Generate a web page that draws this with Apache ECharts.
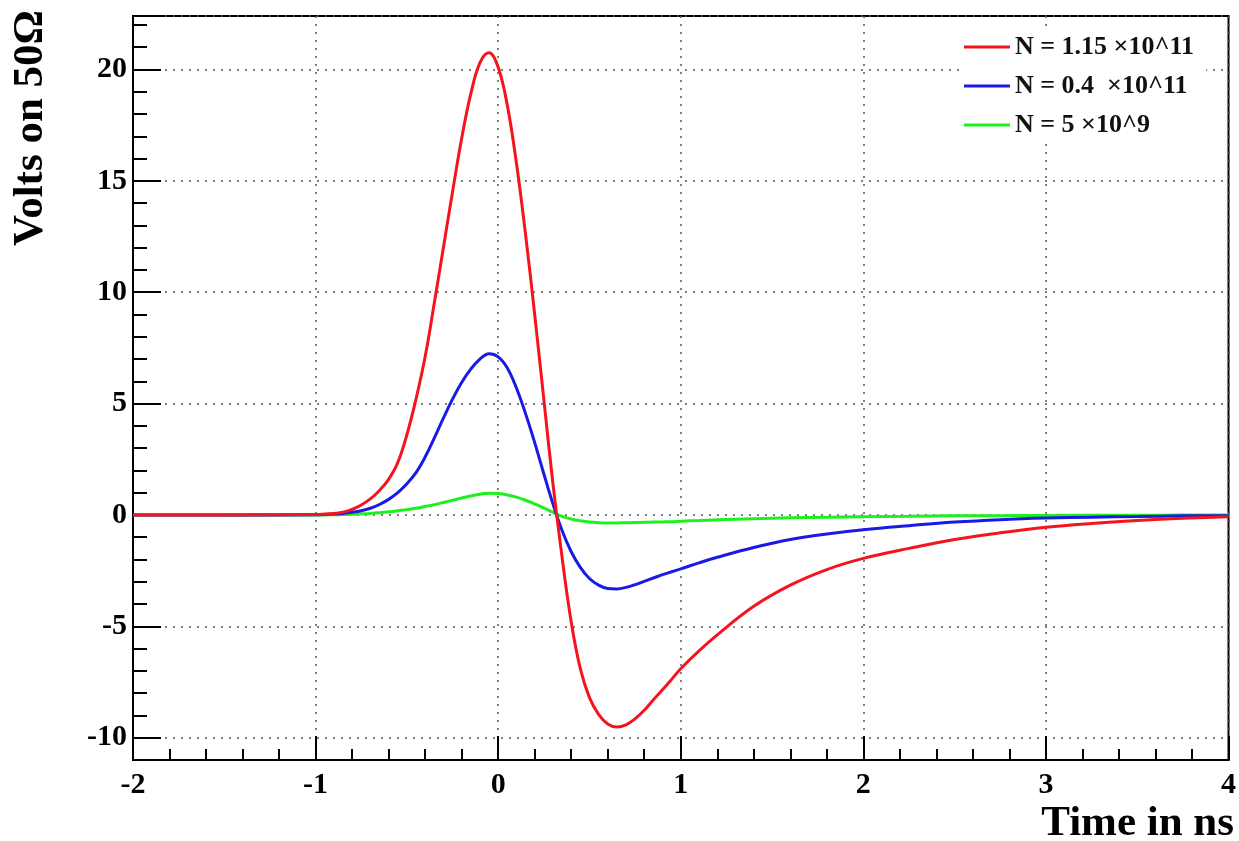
<!DOCTYPE html>
<html>
<head>
<meta charset="utf-8">
<title>Pulse</title>
<script src="https://cdn.jsdelivr.net/npm/echarts@6/dist/echarts.min.js"></script>
<style>
    html, body { margin: 0; padding: 0; background: #fff; }
    #main { width: 1239px; height: 841px; }
</style>
</head>
<body>
<div id="main"></div>
<script>
    // time in ns
    var times = [-2, -1.5,
        -1.0, -0.95, -0.9, -0.85, -0.8, -0.75, -0.7, -0.65, -0.6, -0.55,
        -0.5, -0.45, -0.4, -0.35, -0.3, -0.25, -0.2, -0.15, -0.1, -0.05,
        0, 0.05, 0.1, 0.15, 0.2, 0.25, 0.3, 0.35, 0.4, 0.45,
        0.5, 0.55, 0.6, 0.65, 0.7, 0.75, 0.8, 0.85, 0.9, 0.95,
        1.0, 1.1, 1.2, 1.4, 1.6, 1.8, 2.0, 2.25, 2.5, 2.75, 3.0, 3.25, 3.5, 3.75, 4.0];

    // volts, N = 1.15e11
    var redVolts = [0, 0,
        0.02, 0.04, 0.07, 0.12, 0.25, 0.45, 0.72, 1.1, 1.6, 2.35,
        3.6, 5.2, 7.1, 9.5, 12.0, 14.5, 16.9, 18.9, 20.3, 20.75,
        20.1, 18.4, 15.8, 12.6, 9.0, 5.2, 1.4, -1.9, -4.8, -6.9,
        -8.2, -8.95, -9.38, -9.52, -9.42, -9.15, -8.77, -8.3, -7.85, -7.38,
        -6.9, -6.1, -5.38, -4.1, -3.15, -2.45, -1.95, -1.5, -1.1, -0.8, -0.55, -0.38, -0.25, -0.15, -0.08];

    // volts, N = 0.4e11
    var blueVolts = [0, 0,
        0.01, 0.02, 0.04, 0.07, 0.12, 0.19, 0.3, 0.47, 0.7, 1.0,
        1.4, 1.9, 2.6, 3.45, 4.35, 5.2, 5.95, 6.55, 7.0, 7.24,
        7.1, 6.6, 5.7, 4.55, 3.25, 1.85, 0.5, -0.7, -1.65, -2.35,
        -2.85, -3.15, -3.3, -3.32, -3.25, -3.13, -2.98, -2.83, -2.68, -2.55,
        -2.42, -2.15, -1.9, -1.46, -1.1, -0.85, -0.66, -0.48, -0.32, -0.21, -0.14, -0.1, -0.07, -0.04, -0.03];

    // volts, N = 5e9
    var greenVolts = [0, 0,
        0, 0.005, 0.01, 0.02, 0.03, 0.05, 0.07, 0.1, 0.14, 0.19,
        0.24, 0.3, 0.38, 0.46, 0.56, 0.66, 0.76, 0.85, 0.93, 0.98,
        0.96, 0.9, 0.8, 0.66, 0.5, 0.32, 0.12, -0.06, -0.18, -0.26,
        -0.32, -0.35, -0.36, -0.36, -0.35, -0.34, -0.33, -0.32, -0.31, -0.3,
        -0.28, -0.25, -0.22, -0.17, -0.13, -0.1, -0.08, -0.06, -0.04, -0.03, -0.02, -0.015, -0.01, -0.005, 0];

    var seriesNames = ['N = 1.15 \u00d710^11', 'N = 0.4  \u00d710^11', 'N = 5 \u00d710^9'];
    var seriesColors = ['#f5141e', '#1a1ae6', '#1ef01e'];

    function pairs(ys) {
        return times.map(function (t, i) { return [t, ys[i]]; });
    }

    var FONT = '"Liberation Serif", "DejaVu Serif", serif';
    var gridDots = { show: true, lineStyle: { color: '#555', type: [2, 6], width: 1.5 } };

    var chart = echarts.init(document.getElementById('main'));
    var lines = [redVolts, blueVolts, greenVolts].map(function (ys, i) {
        return {
            name: seriesNames[i],
            type: 'line',
            data: pairs(ys),
            smooth: 0.4,
            symbol: 'none',
            yAxisIndex: 0,
            lineStyle: { color: seriesColors[i], width: 3 },
            itemStyle: { color: seriesColors[i] },
            z: 5 - i
        };
    });

    var option = {
        backgroundColor: '#fff',
        animation: false,
        grid: {
            left: 133, right: 8, top: 16, bottom: 81,
            show: true, borderColor: '#000', borderWidth: 2, backgroundColor: 'transparent'
        },
        legend: {
            orient: 'vertical',
            left: 960, top: 30,
            itemWidth: 46, itemHeight: 3, itemGap: 13,
            icon: 'rect',
            backgroundColor: '#fff',
            padding: [4, 12, 4, 4],
            textStyle: { fontFamily: FONT, fontWeight: 'bold', fontSize: 26, color: '#111' },
            data: seriesNames
        },
        xAxis: {
            type: 'value',
            min: -2, max: 4, interval: 1,
            axisLine: { onZero: false, lineStyle: { color: '#000', width: 2 } },
            axisTick: { inside: true, length: 24, lineStyle: { color: '#000', width: 2 } },
            minorTick: { show: true, splitNumber: 5, length: 11, lineStyle: { color: '#000', width: 2 } },
            axisLabel: { margin: 10, fontFamily: FONT, fontWeight: 'bold', fontSize: 30, color: '#000' },
            splitLine: gridDots
        },
        yAxis: [{
            type: 'value',
            min: -11, max: 22.4, splitNumber: 6,
            axisLine: { onZero: false, lineStyle: { color: '#000', width: 2 } },
            axisTick: { inside: true, length: 28, lineStyle: { color: '#000', width: 2 } },
            axisLabel: {
                margin: 6, fontFamily: FONT, fontWeight: 'bold', fontSize: 30, color: '#000',
                formatter: function (v) { return v % 5 === 0 ? String(v) : ''; }
            },
            splitLine: gridDots
        }, {
            // minor ticks every 1 V
            type: 'value',
            position: 'left',
            min: -11, max: 22.4, interval: 1,
            axisLine: { show: false, onZero: false },
            axisTick: { inside: true, length: 14, lineStyle: { color: '#000', width: 2 } },
            axisLabel: { show: false },
            splitLine: { show: false }
        }],
        graphic: [{
            type: 'text',
            x: 1234, y: 824,
            style: {
                text: 'Time in ns', fill: '#000', align: 'right', verticalAlign: 'middle',
                font: 'bold 43px ' + FONT
            }
        }, {
            type: 'text',
            x: 31, y: 10,
            rotation: Math.PI / 2,
            style: {
                text: 'Volts on 50\u03a9', fill: '#000', align: 'right', verticalAlign: 'middle',
                font: 'bold 43px ' + FONT
            }
        }],
        series: lines
    };
    chart.setOption(option);
</script>
</body>
</html>
